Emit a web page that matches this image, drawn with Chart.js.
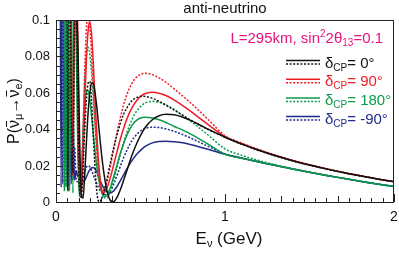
<!doctype html>
<html lang="en">
<head>
  <meta charset="UTF-8">
  <title>anti-neutrino</title>
  <script src="https://cdn.jsdelivr.net/npm/chart.js@4.4.0/dist/chart.umd.min.js"></script>
  <style>
    html, body { margin: 0; padding: 0; background: #fff; }
    .wrap { width: 399px; height: 257px; position: relative; }
  </style>
</head>
<body>
<div class="wrap"><canvas id="osc"></canvas></div>
<script>
  // neutrino energy grid (GeV), dense where the probability wiggles
  const energy = [
    0.02, 0.03, 0.04, 0.05, 0.06, 0.07, 0.08, 0.09, 0.10, 0.11, 0.12, 0.13,
    0.14, 0.15, 0.16, 0.17, 0.18, 0.19, 0.20, 0.21, 0.22, 0.23, 0.24, 0.25, 0.26, 0.27, 0.28, 0.29, 0.30,
    0.32, 0.34, 0.36, 0.38, 0.40, 0.42, 0.45, 0.48, 0.51, 0.53, 0.57, 0.61, 0.65, 0.70, 0.75, 0.80,
    0.90, 1.0, 1.1, 1.2, 1.3, 1.4, 1.5, 1.6, 1.7, 1.8, 1.9, 2.0
  ]

  // P(anti-numu -> anti-nue), solid and dotted curve for every delta_CP
  // (values above 0.1 run off the top of the frame)
  const black = [
    0.3, 0.3, 0.3, 0.3, 0.3, 0.3, 0.3, 0.3, 0.3, 0.2, 0.115, 0.085,
    0.034, 0.0036, 0.0021, 0.0152, 0.0329, 0.0491, 0.0599, 0.0654, 0.0653, 0.0607, 0.0535, 0.0442, 0.0348, 0.0258, 0.0182, 0.0119, 0.0068,
    0.0011, 0.0001, 0.0024, 0.0066, 0.0119, 0.0175, 0.0258, 0.0327, 0.0383, 0.0412, 0.0452, 0.0474, 0.0482, 0.0479, 0.0466, 0.0447,
    0.0400, 0.0356, 0.0318, 0.0284, 0.0254, 0.0227, 0.0203, 0.0182, 0.0162, 0.0144, 0.0127, 0.0112
  ]
  const blackDot = [
    0.3, 0.3, 0.3, 0.3, 0.3, 0.006, 0.153, 0.06, 0.016, 0.104, 0.104, 0.045,
    0.0046, 0.0026, 0.0186, 0.0393, 0.0561, 0.0653, 0.0663, 0.0557, 0.0378, 0.020, 0.007, 0.0007, 0.0002, 0.0018, 0.0045, 0.0080, 0.012,
    0.0207, 0.0292, 0.0366, 0.043, 0.0482, 0.0518, 0.0557, 0.0575, 0.0581, 0.0580, 0.0570, 0.0553, 0.0532, 0.0505, 0.0476, 0.0448,
    0.0398, 0.0356, 0.0317, 0.0283, 0.0253, 0.0226, 0.0202, 0.0181, 0.0161, 0.0143, 0.0126, 0.0111
  ]
  const red = [
    0.3, 0.3, 0.3, 0.3, 0.3, 0.3, 0.211, 0.096, 0.0145, 0.141, 0.159, 0.078,
    0.016, 0.0053, 0.0244, 0.0532, 0.0788, 0.094, 0.099, 0.0927, 0.0774, 0.0582, 0.040, 0.0244, 0.0134, 0.007, 0.005, 0.0056, 0.0073,
    0.0129, 0.0199, 0.0273, 0.0343, 0.0404, 0.0458, 0.0518, 0.056, 0.0587, 0.0596, 0.0603, 0.0598, 0.0585, 0.0560, 0.0530, 0.0497,
    0.0425, 0.0359, 0.0320, 0.0286, 0.0255, 0.0228, 0.0204, 0.0182, 0.0162, 0.0144, 0.0127, 0.0111
  ]
  const redDot = [
    0.3, 0.3, 0.3, 0.3, 0.3, 0.3, 0.3, 0.078, 0.024, 0.151, 0.151, 0.065,
    0.008, 0.009, 0.0383, 0.0721, 0.0954, 0.103, 0.0969, 0.082, 0.0635, 0.0449, 0.0294, 0.0175, 0.0099, 0.0064, 0.0062, 0.0079, 0.0107,
    0.0188, 0.0283, 0.0377, 0.046, 0.0534, 0.0592, 0.0653, 0.0689, 0.0705, 0.0707, 0.0700, 0.0682, 0.0658, 0.0621, 0.0582, 0.0542,
    0.0453, 0.0364, 0.0323, 0.0288, 0.0257, 0.0229, 0.0205, 0.0183, 0.0163, 0.0145, 0.0127, 0.0111
  ]
  const green = [
    0.3, 0.3, 0.3, 0.3, 0.008, 0.16, 0.006, 0.14, 0.005, 0.114, 0.083, 0.026,
    0.004, 0.0141, 0.0343, 0.0519, 0.061, 0.0612, 0.056, 0.0477, 0.0381, 0.0288, 0.0205, 0.0139, 0.0088, 0.0054, 0.0036, 0.003, 0.0036,
    0.0075, 0.0136, 0.0201, 0.0266, 0.0322, 0.0369, 0.0421, 0.0451, 0.0464, 0.0466, 0.0462, 0.0452, 0.0437, 0.0415, 0.0395, 0.0372,
    0.0318, 0.0262, 0.0240, 0.0220, 0.0200, 0.0181, 0.0163, 0.0146, 0.0130, 0.0114, 0.0099, 0.0085
  ]
  const greenDot = [
    0.3, 0.3, 0.3, 0.006, 0.19, 0.006, 0.198, 0.029, 0.048, 0.141, 0.102, 0.031,
    0.003, 0.0153, 0.0407, 0.065, 0.0802, 0.085, 0.081, 0.0715, 0.0584, 0.0449, 0.0327, 0.022, 0.0135, 0.0076, 0.0039, 0.0022, 0.0022,
    0.0054, 0.0114, 0.0185, 0.0258, 0.0324, 0.0383, 0.0454, 0.0503, 0.0533, 0.0545, 0.0553, 0.0548, 0.0535, 0.0508, 0.0476, 0.0442,
    0.0368, 0.0292, 0.0256, 0.0228, 0.0204, 0.0183, 0.0164, 0.0146, 0.0130, 0.0114, 0.0099, 0.0085
  ]
  const blue = [
    0.3, 0.008, 0.2, 0.008, 0.12, 0.009, 0.07, 0.01, 0.05, 0.012, 0.017, 0.014,
    0.0125, 0.0115, 0.011, 0.0119, 0.0138, 0.016, 0.0177, 0.0187, 0.019, 0.0183, 0.0168, 0.0145, 0.0121, 0.010, 0.0082, 0.0067, 0.0057,
    0.005, 0.006, 0.0084, 0.0116, 0.0149, 0.0183, 0.0229, 0.0265, 0.0292, 0.0307, 0.0325, 0.0333, 0.0334, 0.0331, 0.0325, 0.0315,
    0.0290, 0.0262, 0.0240, 0.0220, 0.0200, 0.0181, 0.0163, 0.0146, 0.0130, 0.0114, 0.0099, 0.0086
  ]
  const blueDot = [
    0.3, 0.3, 0.01, 0.2, 0.009, 0.09, 0.009, 0.05, 0.012, 0.03, 0.012, 0.011,
    0.0092, 0.0095, 0.0127, 0.0165, 0.0191, 0.020, 0.0193, 0.0175, 0.0151, 0.0126, 0.0103, 0.0083, 0.0066, 0.0054, 0.0046, 0.0041, 0.004,
    0.0056, 0.0094, 0.0143, 0.0194, 0.0243, 0.0285, 0.0338, 0.0373, 0.0396, 0.0405, 0.0411, 0.0409, 0.0402, 0.0388, 0.0370, 0.0350,
    0.0306, 0.0265, 0.0242, 0.0221, 0.0201, 0.0182, 0.0164, 0.0147, 0.0130, 0.0114, 0.0099, 0.0085
  ]

  const deltaLabels = ['0°', '90°', '180°', '-90°']
  const yTicks = [0, 0.02, 0.04, 0.06, 0.08, 0.1]
  const xTicks = [0, 1, 2]

  const FONT = '"Liberation Sans", Arial, Helvetica, sans-serif'
  const C_BLACK = '#111111', C_RED = '#ee1c25', C_GREEN = '#0a9a48', C_BLUE = '#1f2a8a'
  const C_MAG = '#e6127e'
  const colours = [C_BLACK, C_RED, C_GREEN, C_BLUE]

  const pts = arr => energy.map((e, i) => ({ x: e, y: arr[i] }))
  const curve = (arr, colour, dotted) => ({
    data: pts(arr),
    borderColor: colour,
    borderWidth: 1.5,
    borderDash: dotted ? [2, 1.6] : [],
    pointRadius: 0,
    fill: false,
    cubicInterpolationMode: 'monotone'
  })

  // draw a sequence of text pieces (sub/superscripts, overbars)
  function richText(ctx, x, y, parts, align) {
    let w = 0
    parts.forEach(p => { ctx.font = p.size + 'px ' + FONT; w += ctx.measureText(p.t).width })
    let cx = align === 'right' ? x - w : align === 'center' ? x - w / 2 : x
    parts.forEach(p => {
      ctx.font = p.size + 'px ' + FONT
      const tw = ctx.measureText(p.t).width
      ctx.fillText(p.t, cx, y + (p.dy || 0))
      if (p.bar) {
        ctx.beginPath()
        ctx.lineWidth = 1
        ctx.moveTo(cx + 1, y - p.size * 0.78)
        ctx.lineTo(cx + tw - 1, y - p.size * 0.78)
        ctx.stroke()
      }
      cx += tw
    })
  }

  const decor = {
    id: 'decor',
    afterDraw(chart) {
      const ctx = chart.ctx
      const a = chart.chartArea
      const xs = chart.scales.x, ys = chart.scales.y
      ctx.save()

      // frame
      ctx.strokeStyle = '#222'
      ctx.lineWidth = 1
      ctx.strokeRect(a.left + 0.5, a.top + 0.5, a.right - a.left - 1, a.bottom - a.top)

      // inward ticks
      ctx.beginPath()
      for (let k = 0; k <= 20; k++) {
        const py = Math.round(ys.getPixelForValue(k * 0.005)) + 0.5
        const len = k % 4 === 0 ? 7 : 4
        ctx.moveTo(a.left, py); ctx.lineTo(a.left + len, py)
      }
      for (let k = 0; k <= 30; k++) {
        const px = Math.round(xs.getPixelForValue(k / 15)) + 0.5
        const len = k % 15 === 0 ? 8 : (k % 5 === 0 ? 6 : 4)
        ctx.moveTo(px, a.bottom); ctx.lineTo(px, a.bottom - len)
      }
      ctx.stroke()

      ctx.fillStyle = '#111'
      ctx.strokeStyle = '#111'

      // tick labels
      ctx.font = '13px ' + FONT
      ctx.textAlign = 'right'
      ctx.textBaseline = 'middle'
      yTicks.forEach(v => ctx.fillText(String(+v.toFixed(2)), a.left - 6, ys.getPixelForValue(v) + 0.5))
      ctx.font = '14px ' + FONT
      ctx.textAlign = 'center'
      ctx.textBaseline = 'alphabetic'
      xTicks.forEach(v => ctx.fillText(String(v), xs.getPixelForValue(v), 221))

      ctx.textAlign = 'left'

      // title
      richText(ctx, (a.left + a.right) / 2, 13, [{ t: 'anti-neutrino', size: 15 }], 'center')

      // x title
      richText(ctx, 229, 244, [
        { t: 'E', size: 17 }, { t: 'ν', size: 11, dy: 3 }, { t: ' (GeV)', size: 17 }
      ], 'center')

      // y title
      ctx.save()
      ctx.translate(19, (a.top + a.bottom) / 2)
      ctx.rotate(-Math.PI / 2)
      richText(ctx, 0, 0, [
        { t: 'P(', size: 16 }, { t: 'ν', size: 16, bar: true }, { t: 'μ', size: 11, dy: 3 },
        { t: '→', size: 16 }, { t: 'ν', size: 16, bar: true }, { t: 'e', size: 11, dy: 3 },
        { t: ')', size: 16 }
      ], 'center')
      ctx.restore()

      // baseline / theta13 note
      ctx.fillStyle = C_MAG
      richText(ctx, 383, 43, [
        { t: 'L=295km, sin', size: 15 }, { t: '2', size: 10, dy: -6 }, { t: '2θ', size: 15 },
        { t: '13', size: 10, dy: 3 }, { t: '=0.1', size: 15 }
      ], 'right')

      // legend
      deltaLabels.forEach((lab, i) => {
        const cy = 62 + i * 18.7
        ctx.strokeStyle = colours[i]
        ctx.lineWidth = 1.5
        ctx.setLineDash([])
        ctx.beginPath(); ctx.moveTo(286, cy - 1.5); ctx.lineTo(320, cy - 1.5); ctx.stroke()
        ctx.setLineDash([2, 1.6])
        ctx.beginPath(); ctx.moveTo(286, cy + 2); ctx.lineTo(320, cy + 2); ctx.stroke()
        ctx.setLineDash([])
        ctx.fillStyle = colours[i]
        richText(ctx, 325, cy + 5.5, [
          { t: 'δ', size: 15 }, { t: 'CP', size: 10, dy: 3 }, { t: '= ' + lab, size: 15 }
        ], 'left')
      })

      ctx.restore()
    }
  }

  const chart = new Chart(document.getElementById('osc'), {
    type: 'line',
    data: {
      datasets: [
        curve(black, C_BLACK, false), curve(blackDot, C_BLACK, true),
        curve(red, C_RED, false), curve(redDot, C_RED, true),
        curve(green, C_GREEN, false), curve(greenDot, C_GREEN, true),
        curve(blue, C_BLUE, false), curve(blueDot, C_BLUE, true)
      ]
    },
    options: {
      responsive: true,
      maintainAspectRatio: false,
      animation: false,
      devicePixelRatio: 1,
      layout: { padding: { top: 20, right: 5, left: 0, bottom: 0 } },
      plugins: { legend: { display: false }, tooltip: { enabled: false } },
      scales: {
        x: {
          type: 'linear', min: 0, max: 2,
          grid: { display: false, drawTicks: false }, border: { display: false },
          ticks: { display: false },
          afterFit: s => { s.height = 55 }
        },
        y: {
          min: 0, max: 0.1,
          grid: { display: false, drawTicks: false }, border: { display: false },
          ticks: { display: false },
          afterFit: s => { s.width = 56 }
        }
      }
    },
    plugins: [decor]
  })
</script>
</body>
</html>
